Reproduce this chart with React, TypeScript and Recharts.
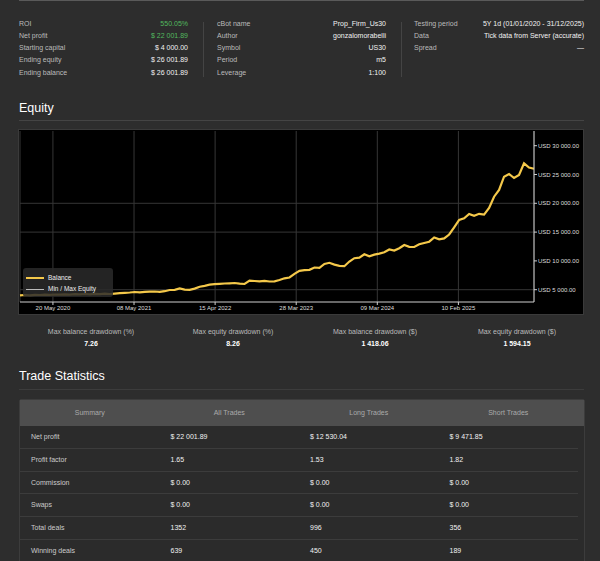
import { CartesianGrid, Line, LineChart, XAxis, YAxis } from "recharts";

// balance sampled along the equity curve (USD)
const balance = [
  4000, 4080, 4028, 4115, 4080, 4149, 4097, 4167, 4132, 4201,
  4149, 4219, 4184, 4254, 4201, 4271, 4236, 4306, 4254, 4323,
  4392, 4462, 4514, 4601, 4549, 4635, 4653, 4688, 4618, 4740,
  4948, 4983, 5208, 5017, 4983, 5191, 5521, 5677, 5885, 5955,
  6024, 6076, 6111, 6163, 6059, 5990, 6562, 6510, 6458, 6528,
  6424, 6458, 6684, 6979, 7118, 7760, 8281, 8385, 8455, 8854,
  8784, 9461, 9670, 9357, 9149, 9080, 9896, 10468, 10573, 11145,
  10796, 11093, 11267, 11493, 11979, 11788, 12204, 12760, 12447, 12413,
  12881, 13107, 13333, 14062, 13749, 13906, 14583, 15833, 17100, 17395,
  18141, 17829, 18176, 18037, 19183, 21145, 22308, 24617, 25085, 24391,
  24912, 26943, 26214, 26002,
];

const xTickPos = [6.6, 22.85, 39.1, 55.35, 71.6, 87.85];
const xTickLabels = ["20 May 2020", "08 May 2021", "15 Apr 2022", "28 Mar 2023", "09 Mar 2024", "10 Feb 2025"];
const yTicks = [5000, 10000, 15000, 20000, 25000, 30000];
const gridValues = [5000, 15000, 20000];

const col1 = [
  ["ROI", "550.05%"],
  ["Net profit", "$ 22 001.89"],
  ["Starting capital", "$ 4 000.00"],
  ["Ending equity", "$ 26 001.89"],
  ["Ending balance", "$ 26 001.89"],
];
const col2 = [
  ["cBot name", "Prop_Firm_Us30"],
  ["Author", "gonzalomorabelli"],
  ["Symbol", "US30"],
  ["Period", "m5"],
  ["Leverage", "1:100"],
];
const col3 = [
  ["Testing period", "5Y 1d (01/01/2020 - 31/12/2025)"],
  ["Data", "Tick data from Server (accurate)"],
  ["Spread", "—"],
];

const drawdownLabels = ["Max balance drawdown (%)", "Max equity drawdown (%)", "Max balance drawdown ($)", "Max equity drawdown ($)"];
const drawdownValues = ["7.26", "8.26", "1 418.06", "1 594.15"];

const tableHeader = ["Summary", "All Trades", "Long Trades", "Short Trades"];
const tableRows = [
  ["Net profit", "$ 22 001.89", "$ 12 530.04", "$ 9 471.85"],
  ["Profit factor", "1.65", "1.53", "1.82"],
  ["Commission", "$ 0.00", "$ 0.00", "$ 0.00"],
  ["Swaps", "$ 0.00", "$ 0.00", "$ 0.00"],
  ["Total deals", "1352", "996", "356"],
  ["Winning deals", "639", "450", "189"],
];

const FONT = "'Liberation Sans', Arial, sans-serif";
const BG = "#2d2d2d";
const YELLOW = "#f4c84a";
const GREEN = "#52b95f";

const data = balance.map((v, i) => ({ i, balance: v }));

const usd = (v: number) =>
  "USD " + String(Math.round(v)).replace(/\B(?=(\d{3})+(?!\d))/g, " ") + ".00";

function YTick({ x, y, payload }: any) {
  return (
    <text x={x} y={y} dy="0.35em" fill="#ddd" fontSize={6} fontFamily={FONT} textAnchor="start">
      {usd(payload.value)}
    </text>
  );
}

function StatCol({ rows, left, right }: { rows: string[][]; left: number; right: number }) {
  return (
    <>
      {rows.map(([label, value], r) => (
        <div
          key={label}
          style={{
            position: "absolute",
            left,
            width: right - left,
            top: 18.7 + r * 12.25,
            height: 10,
            lineHeight: "10px",
            fontSize: 7,
            display: "flex",
            justifyContent: "space-between",
          }}
        >
          <span style={{ color: "#bbb" }}>{label}</span>
          <span style={{ color: r < 2 && left < 100 ? GREEN : "#f2f2f2" }}>{value}</span>
        </div>
      ))}
    </>
  );
}

const hline = (top: number, left: number, width: number, color: string) => (
  <div style={{ position: "absolute", top, left, width, height: 1, background: color }} />
);

export default function App() {
  return (
    <div
      style={{
        position: "fixed",
        left: 0,
        top: 0,
        width: 600,
        height: 561,
        background: BG,
        fontFamily: FONT,
        overflow: "hidden",
      }}
    >
      {hline(0, 19, 565, "#5a5a5a")}
      <StatCol rows={col1} left={19} right={188} />
      <StatCol rows={col2} left={217} right={386} />
      <StatCol rows={col3} left={414} right={584} />
      <div style={{ position: "absolute", left: 203, top: 22, width: 1, height: 55, background: "#444" }} />
      <div style={{ position: "absolute", left: 401, top: 22, width: 1, height: 55, background: "#444" }} />

      <div style={{ position: "absolute", left: 19, top: 100, fontSize: 12.5, lineHeight: "16px", color: "#fff" }}>
        Equity
      </div>
      {hline(120, 19, 565, "#444")}

      <div
        style={{
          position: "absolute",
          left: 19,
          top: 130,
          width: 564,
          height: 184,
          background: "#000",
          boxShadow: "0 0 0 1px #3a3a3a",
        }}
      >
        <LineChart width={564} height={184} data={data} margin={{ top: 1, right: 0, bottom: 0, left: 1 }}>
          <CartesianGrid stroke="#363636" strokeWidth={1} horizontalValues={gridValues} />
          <XAxis
            dataKey="i"
            type="number"
            domain={[0, 103]}
            ticks={xTickPos}
            interval={0}
            tickFormatter={(v: number) => xTickLabels[xTickPos.indexOf(v)]}
            height={12}
            tickSize={3}
            tickMargin={1}
            axisLine={{ stroke: "#cfcfcf" }}
            tickLine={{ stroke: "#cfcfcf" }}
            tick={{ fill: "#ddd", fontSize: 6, fontFamily: FONT }}
          />
          <YAxis
            orientation="right"
            width={49}
            domain={[2865, 32550]}
            ticks={yTicks}
            allowDataOverflow
            tickSize={3}
            tickMargin={1}
            axisLine={{ stroke: "#cfcfcf" }}
            tickLine={{ stroke: "#cfcfcf" }}
            tick={<YTick />}
          />
          <Line
            type="linear"
            dataKey="balance"
            stroke={YELLOW}
            strokeWidth={2.2}
            dot={false}
            isAnimationActive={false}
          />
        </LineChart>
        <div
          style={{
            position: "absolute",
            left: 4,
            top: 138,
            width: 90,
            height: 29,
            background: "rgba(42,42,42,0.85)",
            borderRadius: 3,
            fontSize: 6.5,
            color: "#eee",
          }}
        >
          <div style={{ position: "absolute", left: 3, top: 9, width: 18, height: 1.5, background: YELLOW }} />
          <div style={{ position: "absolute", left: 25, top: 5.5, lineHeight: "8px" }}>Balance</div>
          <div style={{ position: "absolute", left: 3, top: 20.5, width: 18, height: 1.5, background: "#bbb" }} />
          <div style={{ position: "absolute", left: 25, top: 17, lineHeight: "8px" }}>Min / Max Equity</div>
        </div>
      </div>

      {drawdownLabels.map((label, k) => (
        <div key={label} style={{ position: "absolute", left: 20 + k * 142, width: 142, top: 327, textAlign: "center" }}>
          <div style={{ fontSize: 7, lineHeight: "10px", color: "#bbb" }}>{label}</div>
          <div style={{ fontSize: 7, lineHeight: "10px", color: "#fff", fontWeight: "bold", marginTop: 2 }}>
            {drawdownValues[k]}
          </div>
        </div>
      ))}

      <div style={{ position: "absolute", left: 19, top: 368, fontSize: 12.5, lineHeight: "16px", color: "#fff" }}>
        Trade Statistics
      </div>
      {hline(389, 19, 565, "#3c3c3c")}

      <div
        style={{
          position: "absolute",
          left: 19,
          top: 399,
          width: 564,
          height: 170,
          border: "1px solid #3c3c3c",
          borderRadius: 2,
          background: "#2b2b2b",
        }}
      >
        <div style={{ height: 26, background: "#4e4e4e", display: "flex" }}>
          {tableHeader.map((h) => (
            <div key={h} style={{ width: 139.5, textAlign: "center", fontSize: 7, lineHeight: "26px", color: "#aaa" }}>
              {h}
            </div>
          ))}
        </div>
        {tableRows.map((row, r) => (
          <div
            key={row[0]}
            style={{
              height: 22.8,
              marginRight: 6,
              borderBottom: r < tableRows.length - 1 ? "1px solid #3c3c3c" : "none",
              boxSizing: "border-box",
              display: "flex",
            }}
          >
            {row.map((cell, c) => (
              <div
                key={c}
                style={{
                  width: 139.5,
                  paddingLeft: 11,
                  boxSizing: "border-box",
                  fontSize: 7,
                  lineHeight: "22px",
                  color: c === 0 ? "#ccc" : "#f2f2f2",
                }}
              >
                {cell}
              </div>
            ))}
          </div>
        ))}
      </div>
    </div>
  );
}
